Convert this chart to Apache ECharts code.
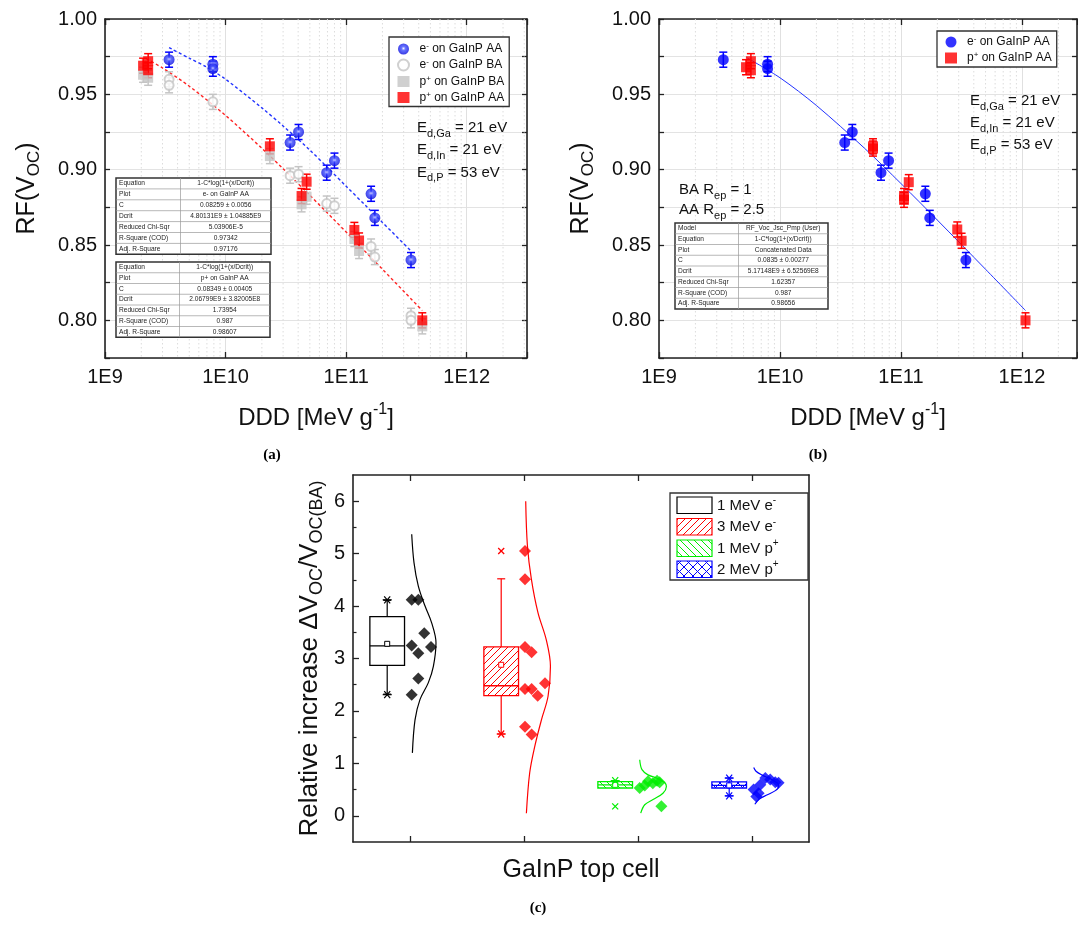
<!DOCTYPE html>
<html><head><meta charset="utf-8">
<script src="https://cdn.jsdelivr.net/npm/echarts@6/dist/echarts.min.js"></script>
<style>html,body{margin:0;padding:0;background:#fff}#c{width:1078px;height:927px}</style>
</head><body><div id="c"></div><script>
// ---------------- DATA ----------------
// Panel (a): [DDD, RF(Voc), error]
const a_eAA = [[3.4e9,0.973,0.005],[7.85e9,0.970,0.005],[7.85e9,0.967,0.005],[3.43e10,0.918,0.005],[4.03e10,0.925,0.005],[6.9e10,0.898,0.005],[8.0e10,0.906,0.005],[1.61e11,0.884,0.005],[1.73e11,0.868,0.005],[3.45e11,0.840,0.005]];
const a_eBA = [[3.4e9,0.960,0.005],[3.4e9,0.956,0.005],[7.85e9,0.945,0.005],[3.43e10,0.896,0.005],[4.03e10,0.897,0.005],[6.9e10,0.8775,0.005],[8.0e10,0.876,0.005],[1.61e11,0.849,0.005],[1.73e11,0.842,0.005],[3.45e11,0.803,0.005],[3.45e11,0.800,0.005]];
const a_pBA = [[2.07e9,0.963,0.005],[2.28e9,0.961,0.005],[2.33e10,0.909,0.005],[4.27e10,0.877,0.005],[4.7e10,0.882,0.005],[1.17e11,0.854,0.005],[1.28e11,0.846,0.005],[4.28e11,0.796,0.005]];
const a_pAA = [[2.07e9,0.969,0.005],[2.28e9,0.972,0.005],[2.28e9,0.966,0.005],[2.33e10,0.9155,0.005],[4.27e10,0.8825,0.005],[4.7e10,0.892,0.005],[1.17e11,0.860,0.005],[1.28e11,0.853,0.005],[4.28e11,0.800,0.005]];
const a_fitE = [[3.4e9,0.981],[5e9,0.974],[7e9,0.968],[1e10,0.960],[2e10,0.941],[3e10,0.929],[5e10,0.913],[7e10,0.9015],[1e11,0.889],[1.5e11,0.875],[2e11,0.865],[3.45e11,0.846]];
const a_fitP = [[2.2e9,0.9737],[3e9,0.9675],[5e9,0.9554],[1e10,0.936],[2e10,0.9142],[3e10,0.9006],[5e10,0.883],[1e11,0.8586],[2e11,0.8339],[4.28e11,0.8065]];
// Panel (b)
const b_eAA = [[3.4e9,0.973,0.005],[7.9e9,0.970,0.005],[7.9e9,0.967,0.005],[3.43e10,0.918,0.005],[3.96e10,0.925,0.005],[6.84e10,0.898,0.005],[7.9e10,0.906,0.005],[1.59e11,0.884,0.005],[1.73e11,0.868,0.005],[3.44e11,0.840,0.005]];
const b_pAA = [[5.24e9,0.968,0.005],[5.75e9,0.972,0.005],[5.75e9,0.966,0.005],[5.87e10,0.9155,0.005],[5.87e10,0.914,0.005],[1.06e11,0.8825,0.005],[1.06e11,0.880,0.005],[1.16e11,0.8917,0.005],[2.92e11,0.8603,0.005],[3.17e11,0.8528,0.005],[1.07e12,0.800,0.005]];
const b_fit = [[5.3e9,0.9744],[1e10,0.961],[2e10,0.9426],[5e10,0.9142],[1e11,0.8908],[2e11,0.8665],[5e11,0.8339],[1.07e12,0.8065]];
// Fit tables
const tableA1 = [['Equation','1-C*log(1+(x/Dcrit))'],['Plot','e- on GaInP AA'],['C','0.08259 ± 0.0056'],['Dcrit','4.80131E9 ± 1.04885E9'],['Reduced Chi-Sqr','5.03906E-5'],['R-Square (COD)','0.97342'],['Adj. R-Square','0.97176']];
const tableA2 = [['Equation','1-C*log(1+(x/Dcrit))'],['Plot','p+ on GaInP AA'],['C','0.08349 ± 0.00405'],['Dcrit','2.06799E9 ± 3.82005E8'],['Reduced Chi-Sqr','1.73954'],['R-Square (COD)','0.987'],['Adj. R-Square','0.98607']];
const tableB = [['Model','RF_Voc_Jsc_Pmp (User)'],['Equation','1-C*log(1+(x/Dcrit))'],['Plot','Concatenated Data'],['C','0.0835 ± 0.00277'],['Dcrit','5.17148E9 ± 6.52569E8'],['Reduced Chi-Sqr','1.62357'],['R-Square (COD)','0.987'],['Adj. R-Square','0.98656']];
// Panel (c)
const groups = ['1 MeV e-','3 MeV e-','1 MeV p+','2 MeV p+'];
// [whisker low, Q1, median, Q3, whisker high, mean]
const boxStats = [[2.32,2.87,3.24,3.80,4.11,3.28],[1.56,2.29,2.48,3.22,4.52,2.88],[0.53,0.53,0.59,0.65,0.67,0.59],[0.38,0.53,0.58,0.645,0.72,0.58]];
const starMarks = [[4.12,2.31],[1.56],[0.67],[0.72,0.38]];
const crossMarks = [[],[5.05],[0.18],[]];
const valsC = [
  [4.12,4.12,3.48,3.25,3.22,3.10,2.62,2.31],
  [5.05,4.51,3.22,3.12,2.42,2.42,2.53,2.29,1.70,1.55],
  [0.53,0.58,0.66,0.62,0.67,0.64,0.18],
  [0.50,0.37,0.59,0.72,0.69,0.64,0.63,0.43]];
const jitterC = [
  [0.015,0.073,0.125,0.015,0.184,0.073,0.073,0.015],
  [0.009,0.009,0.009,0.067,0.009,0.067,0.184,0.12,0.009,0.067],
  [0.015,0.059,0.088,0.13,0.167,0.19,0.205],
  [0.014,0.038,0.073,0.117,0.16,0.204,0.233,0.058]];
// distribution curves: [value, width]
const curvesC = [
  [[5.37,0],[4.83,0.02],[4.38,0.058],[4.0,0.117],[3.68,0.175],[3.30,0.213],[2.85,0.19],[2.54,0.146],[2.22,0.073],[1.83,0.029],[1.2,0.006]],
  [[6.0,0],[5.15,0.015],[4.51,0.05],[3.87,0.108],[3.36,0.18],[2.85,0.217],[2.28,0.196],[1.83,0.138],[1.32,0.079],[0.82,0.035],[0.05,0.006]],
  [[1.07,0],[0.88,0.02],[0.78,0.073],[0.72,0.146],[0.63,0.22],[0.56,0.234],[0.43,0.204],[0.31,0.117],[0.21,0.044],[0.05,0.009]],
  [[0.92,0],[0.85,0.02],[0.78,0.07],[0.70,0.15],[0.62,0.21],[0.56,0.22],[0.48,0.19],[0.40,0.12],[0.32,0.05],[0.22,0.01]]];
const yTicksC = [0,1,2,3,4,5,6];

// ---------------- STYLE / HELPERS ----------------
const FONT = '"Liberation Sans", Arial, sans-serif';
const AX = '#222';
const COLC = ['#000000','#ff0000','#00ee00','#0000ff'];
const BOX_OFF = -0.2, BOX_HW = 0.152, CURVE_BASE = 0.015;

function hatch(color, mode, s){
  const c = document.createElement('canvas'); c.width = s; c.height = s;
  const g = c.getContext('2d'); g.fillStyle = '#fff'; g.fillRect(0,0,s,s);
  g.strokeStyle = color; g.lineWidth = 1; g.beginPath();
  if (mode === '/' || mode === 'x') { for (const o of [-s,0,s]) { g.moveTo(o, s); g.lineTo(o + s, 0); } }
  if (mode === '\\' || mode === 'x') { for (const o of [-s,0,s]) { g.moveTo(o, 0); g.lineTo(o + s, s); } }
  g.stroke(); return c;
}
const FILLS = ['#ffffff',
  {image: hatch('#ff0000','/',7), repeat:'repeat'},
  {image: hatch('#00ee00','\\',7), repeat:'repeat'},
  {image: hatch('#0000ff','x',9), repeat:'repeat'}];

function logLabel(v){ const e = Math.log10(v); return Math.abs(e - Math.round(e)) < 1e-6 ? '1E' + Math.round(e) : ''; }
function yLabel(v){ return Math.abs(v*20 - Math.round(v*20)) < 1e-6 ? v.toFixed(2) : ''; }

const LMIN = 1e9, LMAX_A = Math.pow(10, 12.5), LMAX_B = Math.pow(10, 12.455);
function minorVals(max){ const out=[]; for (let n=9;n<=12;n++) for (let k=2;k<=9;k++){ const v=k*Math.pow(10,n); if (v<max) out.push([v,0.9]); } return out; }

function errSeries(name, data, color, xi, yi){
  return {name, type:'custom', xAxisIndex:xi, yAxisIndex:yi, silent:true, z:3,
    dimensions:['x','y','e'], encode:{x:0,y:1}, data,
    renderItem(params, api){
      const x=api.value(0), y=api.value(1), e=api.value(2);
      const p=api.coord([x,y+e]), q=api.coord([x,y-e]); const w=4;
      const st={stroke:color, lineWidth:1.5};
      return {type:'group', children:[
        {type:'line', shape:{x1:p[0],y1:p[1],x2:q[0],y2:q[1]}, style:st},
        {type:'line', shape:{x1:p[0]-w,y1:p[1],x2:p[0]+w,y2:p[1]}, style:st},
        {type:'line', shape:{x1:q[0]-w,y1:q[1],x2:q[0]+w,y2:q[1]}, style:st}]};
    }};
}
function minorGrid(data, xi, yi){
  return {type:'custom', xAxisIndex:xi, yAxisIndex:yi, silent:true, z:1, data,
    renderItem(params, api){
      const cs=params.coordSys; const x=api.coord([api.value(0), api.value(1)])[0];
      return {type:'line', shape:{x1:x,y1:cs.y,x2:x,y2:cs.y+cs.height}, style:{stroke:'#dcdcdc', lineWidth:1, lineDash:[1.5,2.5]}};
    }};
}
function scatter(name, data, xi, yi, symbol, size, itemStyle){
  return {name, type:'scatter', xAxisIndex:xi, yAxisIndex:yi, z:4, symbol, symbolSize:size,
    data:data.map(d=>[d[0],d[1]]), itemStyle};
}
function fitLine(data, color, dotted, xi, yi){
  return {type:'line', xAxisIndex:xi, yAxisIndex:yi, data, smooth:0.3, symbol:'none', silent:true, z:2,
    lineStyle:{color, width: dotted?1.4:1, type: dotted?[3,2.5]:'solid'}};
}

const blueBall = {type:'radial', x:0.5, y:0.45, r:0.6, colorStops:[{offset:0,color:'#f0f0ff'},{offset:0.3,color:'#4050ff'},{offset:1,color:'#0000d8'}]};

const axTick = {show:true, inside:true, length:6, lineStyle:{color:AX, width:1.3}};
const axLine = {show:true, onZero:false, lineStyle:{color:AX, width:1.6}};
const lblX = {fontSize:20, color:'#111', fontFamily:FONT, margin:9, formatter:logLabel};
const lblY = {fontSize:20, color:'#111', fontFamily:FONT, margin:8, formatter:yLabel};
const richCommon = {
  m:{fontSize:25, fontFamily:FONT, color:'#111', lineHeight:32},
  s:{fontSize:17, fontFamily:FONT, color:'#111', lineHeight:14, verticalAlign:'bottom'},
  p:{fontSize:16, fontFamily:FONT, color:'#111', lineHeight:14, verticalAlign:'top'}
};

function logX(grid, max, bottom){
  return {type:'log', logBase:10, gridIndex:grid, min:LMIN, max, position: bottom?'bottom':'top',
    axisLine:axLine, axisTick:axTick, axisLabel: bottom? lblX : {show:false},
    splitLine:{show:bottom, lineStyle:{color:'#e0e0e0', width:1}},
    name: bottom? '{m|DDD [MeV g}{p|-1}{m|]}' : '', nameLocation:'middle', nameGap:44,
    nameTextStyle:{rich:{m:Object.assign({},richCommon.m,{fontSize:24}), p:richCommon.p}}};
}
function rfY(grid, left){
  return {type:'value', gridIndex:grid, min:0.775, max:1.0, interval:0.025, position:left?'left':'right',
    axisLine:axLine, axisTick:Object.assign({},axTick,{length:5}), axisLabel: left? lblY : {show:false},
    splitLine:{show:left, lineStyle:{color:'#e3e3e3', width:1}},
    name: left? '{m|RF(V}{s|OC}{m|)}' : '', nameLocation:'middle', nameGap:62, nameRotate:90,
    nameTextStyle:{rich:richCommon}};
}

// ---------------- TABLES / TEXT ----------------
function table(x, y, w, split, rowH, rows){
  const els = [];
  els.push({type:'rect', shape:{x, y, width:w, height:rowH*rows.length}, style:{fill:'#fff', stroke:'#333', lineWidth:1.5}, z:10});
  for (let i=1;i<rows.length;i++) els.push({type:'line', shape:{x1:x, y1:y+i*rowH, x2:x+w, y2:y+i*rowH}, style:{stroke:'#999', lineWidth:0.7}, z:11});
  els.push({type:'line', shape:{x1:split, y1:y, x2:split, y2:y+rowH*rows.length}, style:{stroke:'#999', lineWidth:0.7}, z:11});
  rows.forEach((r,i)=>{
    els.push({type:'text', x:x+3, y:y+i*rowH+rowH/2, style:{text:r[0], fontSize:6.6, fontFamily:FONT, fill:'#222', verticalAlign:'middle', align:'left'}, z:12});
    els.push({type:'text', x:(split+x+w)/2, y:y+i*rowH+rowH/2, style:{text:r[1], fontSize:6.6, fontFamily:FONT, fill:'#222', verticalAlign:'middle', align:'center'}, z:12});
  });
  return els;
}
const gRich = {
  m:{fontSize:15, fontFamily:FONT, fill:'#111', lineHeight:22},
  s:{fontSize:11, fontFamily:FONT, fill:'#111', lineHeight:10, verticalAlign:'bottom'}
};
function rtext(x, y, txt){ return {type:'text', x, y, style:{text:txt, rich:gRich, verticalAlign:'middle'}, z:12}; }
function edText(x, y0, dy){
  return [rtext(x, y0, '{m|E}{s|d,Ga}{m| = 21 eV}'), rtext(x, y0+dy, '{m|E}{s|d,In}{m| = 21 eV}'), rtext(x, y0+2*dy, '{m|E}{s|d,P}{m| = 53 eV}')];
}
function panelLabel(x, y, t){ return {type:'text', x, y, style:{text:t, font:'bold 15px "Liberation Serif", "DejaVu Serif", serif', fill:'#000', align:'center', verticalAlign:'middle'}}; }

// Legend (c)
function legendC(){
  const els=[]; const x0=670, y0=493;
  els.push({type:'rect', shape:{x:x0, y:y0, width:138, height:87}, style:{fill:'#fff', stroke:'#333', lineWidth:1.3}, z:10});
  const rowsY=[497,518.5,540,561];
  const labels=['{t|1 MeV e}{p|-}','{t|3 MeV e}{p|-}','{t|1 MeV p}{p|+}','{t|2 MeV p}{p|+}'];
  rowsY.forEach((yy,i)=>{
    els.push({type:'rect', shape:{x:677, y:yy, width:35, height:16.5}, style:{fill:FILLS[i], stroke:COLC[i], lineWidth:1.2}, z:11});
    els.push({type:'text', x:717, y:yy+8.5, style:{text:labels[i], verticalAlign:'middle',
      rich:{t:{fontSize:15, fontFamily:FONT, fill:'#111', lineHeight:20}, p:{fontSize:10, fontFamily:FONT, fill:'#111', lineHeight:9, verticalAlign:'top'}}}, z:11});
  });
  return els;
}

// ---------------- PANEL (c) series ----------------
const seriesC = [];
seriesC.push({type:'custom', xAxisIndex:4, yAxisIndex:4, z:3, silent:true,
  data: boxStats.map((b,i)=>[i+1].concat(b)),
  renderItem(params, api){
    const i=params.dataIndex; const c=api.value(0)+BOX_OFF; const col=COLC[i];
    const lo=api.value(1), q1=api.value(2), md=api.value(3), q3=api.value(4), hi=api.value(5), mean=api.value(6);
    const tl=api.coord([c-BOX_HW,q3]), br=api.coord([c+BOX_HW,q1]);
    const cm=api.coord([c,md]), cl=api.coord([c,lo]), ch=api.coord([c,hi]), cmean=api.coord([c,mean]);
    const st={stroke:col, lineWidth:1.2}; const w=4;
    return {type:'group', children:[
      {type:'line', shape:{x1:ch[0],y1:ch[1],x2:ch[0],y2:tl[1]}, style:st},
      {type:'line', shape:{x1:cl[0],y1:cl[1],x2:cl[0],y2:br[1]}, style:st},
      {type:'line', shape:{x1:ch[0]-w,y1:ch[1],x2:ch[0]+w,y2:ch[1]}, style:st},
      {type:'line', shape:{x1:cl[0]-w,y1:cl[1],x2:cl[0]+w,y2:cl[1]}, style:st},
      {type:'rect', shape:{x:tl[0], y:tl[1], width:br[0]-tl[0], height:br[1]-tl[1]}, style:{fill:FILLS[i], stroke:col, lineWidth:1.3}},
      {type:'line', shape:{x1:tl[0],y1:cm[1],x2:br[0],y2:cm[1]}, style:{stroke:col, lineWidth:1.4}},
      {type:'rect', shape:{x:cmean[0]-2.5, y:cmean[1]-2.5, width:5, height:5}, style:{fill:'#fff', stroke:col, lineWidth:1}}
    ]};
  }});
const starData=[], crossData=[];
starMarks.forEach((arr,i)=>arr.forEach(v=>starData.push([i+1,v,i])));
crossMarks.forEach((arr,i)=>arr.forEach(v=>crossData.push([i+1,v,i])));
seriesC.push({type:'custom', xAxisIndex:4, yAxisIndex:4, z:4, silent:true, data:starData,
  renderItem(params, api){
    const p=api.coord([api.value(0)+BOX_OFF, api.value(1)]); const col=COLC[api.value(2)]; const st={stroke:col, lineWidth:1.2};
    return {type:'group', children:[
      {type:'line', shape:{x1:p[0]-4.5,y1:p[1],x2:p[0]+4.5,y2:p[1]}, style:st},
      {type:'line', shape:{x1:p[0]-3,y1:p[1]-3.5,x2:p[0]+3,y2:p[1]+3.5}, style:st},
      {type:'line', shape:{x1:p[0]-3,y1:p[1]+3.5,x2:p[0]+3,y2:p[1]-3.5}, style:st}]};
  }});
seriesC.push({type:'custom', xAxisIndex:4, yAxisIndex:4, z:4, silent:true, data:crossData,
  renderItem(params, api){
    const p=api.coord([api.value(0)+BOX_OFF, api.value(1)]); const col=COLC[api.value(2)]; const st={stroke:col, lineWidth:1.3};
    return {type:'group', children:[
      {type:'line', shape:{x1:p[0]-3,y1:p[1]-3,x2:p[0]+3,y2:p[1]+3}, style:st},
      {type:'line', shape:{x1:p[0]-3,y1:p[1]+3,x2:p[0]+3,y2:p[1]-3}, style:st}]};
  }});
curvesC.forEach((cv,i)=>{
  seriesC.push({type:'line', xAxisIndex:4, yAxisIndex:4, z:2, silent:true, symbol:'none', smooth:0.35,
    data: cv.map(p=>[i+1+CURVE_BASE+p[1], p[0]]), lineStyle:{color:COLC[i], width:1.2}});
});
valsC.forEach((vals,i)=>{
  seriesC.push({name:groups[i], type:'scatter', xAxisIndex:4, yAxisIndex:4, z:5, symbol:'diamond', symbolSize:[12,12],
    data: vals.map((v,j)=>[i+1+jitterC[i][j], v]), itemStyle:{color:COLC[i]}});
});

// ---------------- OPTION ----------------
const legendRich = {g:{width:5}, t:{fontSize:12, fontFamily:FONT, color:'#111', lineHeight:14}, p:{fontSize:8, fontFamily:FONT, color:'#111', lineHeight:7, verticalAlign:'top'}};
const legFmt = n => ({'eAA':'{g|}{t|e}{p|-}{t| on GaInP AA}','eBA':'{g|}{t|e}{p|-}{t| on GaInP BA}','pBA':'{g|}{t|p}{p|+}{t| on GaInP BA}','pAA':'{g|}{t|p}{p|+}{t| on GaInP AA}','beAA':'{g|}{t|e}{p|-}{t| on GaInP AA}','bpAA':'{g|}{t|p}{p|+}{t| on GaInP AA}'})[n];

const option = {
  animation:false, backgroundColor:'#fff',
  grid:[
    {left:105, top:19, width:422, height:339, outerBoundsMode:'none'},
    {left:659, top:19, width:418, height:339, outerBoundsMode:'none'},
    {left:353, top:475, width:456, height:367, outerBoundsMode:'none'}
  ],
  legend:[
    {left:389, top:37, orient:'vertical', data:['eAA','eBA','pBA','pAA'], itemWidth:12, itemHeight:11, itemGap:3,
     padding:[5,5,3,8], borderColor:'#333', borderWidth:1.3, backgroundColor:'#fff', formatter:legFmt, textStyle:{rich:legendRich}, selectedMode:false},
    {left:937, top:31, orient:'vertical', data:['beAA','bpAA'], itemWidth:12, itemHeight:11, itemGap:3,
     padding:[4,5,3,8], borderColor:'#333', borderWidth:1.3, backgroundColor:'#fff', formatter:legFmt, textStyle:{rich:legendRich}, selectedMode:false}
  ],
  xAxis:[
    logX(0, LMAX_A, true), logX(0, LMAX_A, false),
    logX(1, LMAX_B, true), logX(1, LMAX_B, false),
    {type:'value', gridIndex:2, min:0.5, max:4.5, position:'bottom', axisLine:axLine,
     axisTick:Object.assign({},axTick,{customValues:[1,2,3,4]}), axisLabel:{show:false}, splitLine:{show:false},
     name:'GaInP top cell', nameLocation:'middle', nameGap:16, nameTextStyle:{fontSize:25, fontFamily:FONT, color:'#111'}},
    {type:'value', gridIndex:2, min:0.5, max:4.5, position:'top', axisLine:axLine,
     axisTick:Object.assign({},axTick,{customValues:[1,2,3,4]}), axisLabel:{show:false}, splitLine:{show:false}}
  ],
  yAxis:[
    rfY(0,true), rfY(0,false), rfY(1,true), rfY(1,false),
    {type:'value', gridIndex:2, min:-0.5, max:6.5, position:'left', axisLine:axLine,
     axisTick:Object.assign({},axTick,{customValues:yTicksC}), axisLabel:{fontSize:20, color:'#111', fontFamily:FONT, margin:8, customValues:yTicksC},
     splitLine:{show:false},
     name:'{m|Relative increase ΔV}{s|OC}{m|/V}{s|OC(BA)}', nameLocation:'middle', nameGap:27, nameRotate:90,
     nameTextStyle:{rich:{m:{fontSize:26, fontFamily:FONT, color:'#111', lineHeight:32}, s:{fontSize:18, fontFamily:FONT, color:'#111', lineHeight:14, verticalAlign:'bottom'}}}},
    {type:'value', gridIndex:2, min:-0.5, max:6.5, position:'right', axisLine:axLine, axisTick:{show:false}, axisLabel:{show:false}, splitLine:{show:false}},
    {type:'value', gridIndex:2, min:-0.5, max:6.5, position:'left', axisLine:{show:false},
     axisTick:{show:true, inside:true, length:3.5, lineStyle:{color:AX, width:1.2}, customValues:[0.5,1.5,2.5,3.5,4.5,5.5]}, axisLabel:{show:false}, splitLine:{show:false}}
  ],
  series:[
    minorGrid(minorVals(LMAX_A),0,0),
    fitLine(a_fitE,'#2233ff',true,0,0), fitLine(a_fitP,'#ff2222',true,0,0),
    errSeries('err_eBA', a_eBA, '#c4c4c4', 0,0),
    errSeries('err_pBA', a_pBA, '#c4c4c4', 0,0),
    errSeries('err_pAA', a_pAA, '#ff0000', 0,0),
    errSeries('err_eAA', a_eAA, '#0000ff', 0,0),
    scatter('eBA', a_eBA, 0,0,'emptyCircle', 9, {color:'#c4c4c4', borderWidth:1.3}),
    scatter('pBA', a_pBA, 0,0,'rect', 10, {color:'#c4c4c4'}),
    scatter('pAA', a_pAA, 0,0,'rect', 10, {color:'#ff0000'}),
    scatter('eAA', a_eAA, 0,0,'circle', 11, {color:blueBall}),
    minorGrid(minorVals(LMAX_B),2,2),
    fitLine(b_fit,'#2233ff',false,2,2),
    errSeries('err_beAA', b_eAA, '#0000ff', 2,2),
    errSeries('err_bpAA', b_pAA, '#ff0000', 2,2),
    scatter('bpAA', b_pAA, 2,2,'rect', 10, {color:'#ff0000'}),
    scatter('beAA', b_eAA, 2,2,'circle', 11, {color:'#0000ff'})
  ].concat(seriesC),
  graphic:[].concat(
    table(116,178,155,180.5,10.9,tableA1),
    table(116,262,154,179.5,10.75,tableA2),
    table(675,223,153,738.5,10.75,tableB),
    edText(417,128,22.3), edText(970,101,22),
    [rtext(679,190,'{m|BA R}{s|ep}{m| = 1}'), rtext(679,210,'{m|AA R}{s|ep}{m| = 2.5}')],
    legendC(),
    [panelLabel(272,455,'(a)'), panelLabel(818,455,'(b)'), panelLabel(538,908,'(c)')]
  )
};
const chart = echarts.init(document.getElementById('c'), null, {renderer:'canvas'});
chart.setOption(option);
</script></body></html>
